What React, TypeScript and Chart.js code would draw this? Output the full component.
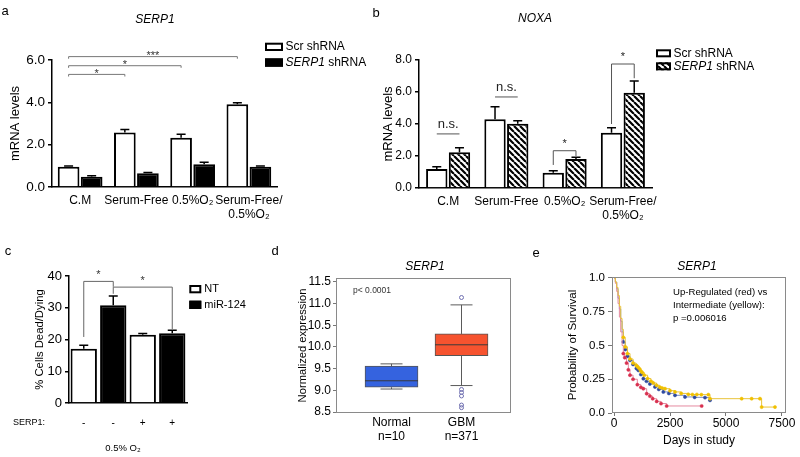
import React, { useEffect, useRef } from 'react';
import { Chart, registerables } from 'chart.js';

Chart.register(...registerables);

const FONT = '"Liberation Sans", Arial, Helvetica, sans-serif';
Chart.defaults.font.family = FONT;
Chart.defaults.color = '#000';

// ---------- panel a : SERP1 ----------
const A_CATEGORIES: any[] = ['C.M', 'Serum-Free', '0.5%O₂', ['Serum-Free/', '0.5%O₂']];
const A_SCR = [0.96, 2.57, 2.33, 3.91];
const A_SCR_ERR = [0.03, 0.15, 0.16, 0.07];
const A_SH = [0.49, 0.65, 1.07, 0.96];
const A_SH_ERR = [0.04, 0.04, 0.1, 0.03];
const A_BRACKETS = [
  { from: [0, 0], to: [3, 0], top: 6.16, ends: [6.06, 6.06], label: '***' },
  { from: [0, 0], to: [2, 0], top: 5.73, ends: [5.63, 5.63], label: '*' },
  { from: [0, 0], to: [1, 0], top: 5.32, ends: [5.22, 5.22], label: '*' },
];

// ---------- panel b : NOXA ----------
const B_CATEGORIES: any[] = ['C.M', 'Serum-Free', '0.5%O₂', ['Serum-Free/', '0.5%O₂']];
const B_SCR = [1.19, 4.29, 0.96, 3.46];
const B_SCR_ERR = [0.14, 0.79, 0.12, 0.31];
const B_SH = [2.23, 4.02, 1.81, 5.96];
const B_SH_ERR = [0.29, 0.19, 0.11, 0.73];
const B_BRACKETS = [
  { from: [0, 0], to: [0, 1], top: 3.38, ends: [3.38, 3.38], label: 'n.s.' },
  { from: [1, 0], to: [1, 1], top: 5.69, ends: [5.69, 5.69], label: 'n.s.' },
  { from: [2, 0], to: [2, 1], top: 2.33, ends: [1.44, 2.0], label: '*' },
  { from: [3, 0], to: [3, 1], top: 7.75, ends: [4.0, 6.86], label: '*' },
];

// ---------- panel c ----------
const C_CATEGORIES = ['-', '-', '+', '+'];
const C_NT = [17.1, null, 21.5, null];
const C_NT_ERR = [1.1, null, 0.4, null];
const C_MIR = [null, 30.8, null, 22.0];
const C_MIR_ERR = [null, 2.9, null, 0.9];
const C_BRACKETS = [
  { from: [0, 0], to: [1, 1], top: 38.3, ends: [20.8, 36.6], label: '*' },
  { from: [1, 1], to: [3, 1], top: 36.5, ends: [34.4, 23.3], label: '*' },
];

// ---------- panel d : boxplot ----------
const D_GROUPS = ['Normal', 'GBM'];
const D_COUNTS = ['n=10', 'n=371'];
const D_POS = [1, 2];
const D_MIN = [9.03, 9.11];
const D_Q1 = [9.07, 9.8];
const D_MEDIAN = [9.22, 10.05];
const D_Q3 = [9.56, 10.3];
const D_MAX = [9.61, 10.97];
const D_OUTLIERS = [[], [11.14, 9.02, 8.95, 8.87, 8.66, 8.6]];
const D_COLORS = ['#3563df', '#f6532f'];
const D_Y_TICKS = [8.5, 9.0, 9.5, 10.0, 10.5, 11.0, 11.5];

// ---------- panel e : survival ----------
const E_RED_DAYS = [0, 60, 120, 180, 240, 300, 360, 416, 480, 560, 640, 714, 850, 1042, 1200, 1310, 1458, 1600, 1726, 1905, 2100, 2351, 3914];
const E_RED_SURV = [1.0, 0.96, 0.9, 0.81, 0.71, 0.6, 0.5, 0.44, 0.41, 0.37, 0.32, 0.28, 0.25, 0.21, 0.19, 0.18, 0.143, 0.125, 0.106, 0.086, 0.07, 0.052, 0.052];
const E_YELLOW_DAYS = [0, 60, 120, 180, 240, 300, 360, 416, 500, 600, 714, 850, 987, 1040, 1086, 1150, 1200, 1260, 1350, 1500, 1650, 1756, 1900, 2050, 2150, 2277, 2500, 2723, 3000, 3318, 3500, 3700, 3900, 4212, 4286, 5700, 6146, 6518, 6592, 7188];
const E_YELLOW_SURV = [1.0, 0.97, 0.93, 0.87, 0.79, 0.7, 0.62, 0.56, 0.49, 0.44, 0.4, 0.37, 0.353, 0.345, 0.336, 0.325, 0.31, 0.3, 0.28, 0.255, 0.235, 0.222, 0.205, 0.19, 0.185, 0.18, 0.165, 0.156, 0.145, 0.138, 0.137, 0.137, 0.136, 0.136, 0.106, 0.106, 0.106, 0.106, 0.044, 0.044];
const E_BLUE_DAYS = [0, 60, 120, 180, 240, 300, 360, 416, 500, 600, 714, 850, 1000, 1086, 1200, 1310, 1450, 1600, 1830, 2000, 2202, 2450, 2723, 3170, 3600, 4063, 4286];
const E_BLUE_SURV = [1.0, 0.97, 0.92, 0.85, 0.77, 0.68, 0.6, 0.526, 0.47, 0.42, 0.39, 0.36, 0.33, 0.316, 0.285, 0.254, 0.235, 0.215, 0.193, 0.175, 0.156, 0.145, 0.131, 0.119, 0.116, 0.114, 0.094];
const E_X_TICKS = [0, 2500, 5000, 7500];
const E_Y_TICKS = [0, 0.25, 0.5, 0.75, 1.0];
const E_Y_LABELS = ['0.0', '0.25', '0.5', '0.75', '1.0'];
const E_FIRST_CENSOR_DAY = 400;

// ---------- plugins ----------
const errorBarsPlugin = {
  id: 'errorBars',
  afterDatasetsDraw(chart: any) {
    const ctx = chart.ctx;
    const ys = chart.scales.y;
    chart.data.datasets.forEach((ds: any, di: number) => {
      const errs = ds.errorBars;
      if (!errs) return;
      const meta = chart.getDatasetMeta(di);
      meta.data.forEach((bar: any, i: number) => {
        const v = ds.data[i];
        const e = errs[i];
        if (v == null || e == null) return;
        const x = bar.x;
        const y0 = ys.getPixelForValue(v);
        const y1 = ys.getPixelForValue(v + e);
        ctx.save();
        ctx.strokeStyle = '#000';
        ctx.lineWidth = 1.5;
        ctx.beginPath();
        ctx.moveTo(x, y0);
        ctx.lineTo(x, y1);
        ctx.moveTo(x - 4.5, y1);
        ctx.lineTo(x + 4.5, y1);
        ctx.stroke();
        ctx.restore();
      });
    });
  },
};

function bracketsPlugin(list: any[], style: any) {
  return {
    id: 'brackets',
    afterDraw(chart: any) {
      const ctx = chart.ctx;
      const ys = chart.scales.y;
      ctx.save();
      ctx.strokeStyle = style.color;
      ctx.lineWidth = style.width;
      list.forEach((b) => {
        const xa = chart.getDatasetMeta(b.from[1]).data[b.from[0]].x;
        const xb = chart.getDatasetMeta(b.to[1]).data[b.to[0]].x;
        const yt = ys.getPixelForValue(b.top);
        ctx.beginPath();
        ctx.moveTo(xa, ys.getPixelForValue(b.ends[0]));
        ctx.lineTo(xa, yt);
        ctx.lineTo(xb, yt);
        ctx.lineTo(xb, ys.getPixelForValue(b.ends[1]));
        ctx.stroke();
        const lf = style.labels[b.label];
        ctx.font = `${lf.size}px ${FONT}`;
        ctx.fillStyle = style.textColor;
        ctx.textAlign = 'center';
        ctx.textBaseline = 'alphabetic';
        ctx.fillText(b.label, (xa + xb) / 2, yt + lf.dy);
      });
      ctx.restore();
    },
  };
}

function legendPlugin(cfg: any) {
  return {
    id: 'figLegend',
    afterDraw(chart: any) {
      const ctx = chart.ctx;
      ctx.save();
      let row = 0;
      chart.data.datasets.forEach((ds: any) => {
        if (!ds.label || ds.type === 'scatter') return;
        const y = cfg.y + row * cfg.rowH;
        row++;
        const fill = Array.isArray(ds.backgroundColor) ? ds.backgroundColor[0] : ds.backgroundColor;
        ctx.fillStyle = fill;
        ctx.fillRect(cfg.x, y, cfg.boxW, cfg.boxH);
        const lw = cfg.lineW;
        ctx.strokeStyle = '#000';
        ctx.lineWidth = lw;
        ctx.strokeRect(cfg.x + lw / 2, y + lw / 2, cfg.boxW - lw, cfg.boxH - lw);
        let tx = cfg.x + cfg.boxW + cfg.gap;
        const ty = y + cfg.boxH / 2;
        ctx.fillStyle = '#000';
        ctx.textAlign = 'left';
        ctx.textBaseline = 'middle';
        const parts = String(ds.label).split(' ');
        if (parts[0] === 'SERP1' && parts.length > 1) {
          ctx.font = `italic ${cfg.size}px ${FONT}`;
          ctx.fillText(parts[0], tx, ty);
          tx += ctx.measureText(parts[0]).width;
          ctx.font = `${cfg.size}px ${FONT}`;
          ctx.fillText(' ' + parts.slice(1).join(' '), tx, ty);
        } else {
          ctx.font = `${cfg.size}px ${FONT}`;
          ctx.fillText(ds.label, tx, ty);
        }
      });
      ctx.restore();
    },
  };
}

function textsPlugin(items: any[]) {
  return {
    id: 'texts',
    afterDraw(chart: any) {
      const ctx = chart.ctx;
      ctx.save();
      items.forEach((it) => {
        ctx.font = `${it.style || ''} ${it.size}px ${FONT}`;
        ctx.fillStyle = it.color || '#000';
        ctx.textAlign = it.align || 'center';
        ctx.textBaseline = it.baseline || 'middle';
        ctx.fillText(it.text, it.x, it.y);
      });
      ctx.restore();
    },
  };
}

const framePlugin = {
  id: 'frame',
  afterDatasetsDraw(chart: any) {
    const { ctx, chartArea: a } = chart;
    ctx.save();
    ctx.strokeStyle = '#8a8a8a';
    ctx.lineWidth = 1;
    ctx.strokeRect(a.left + 0.5, a.top + 0.5, a.right - a.left - 1, a.bottom - a.top - 1);
    ctx.restore();
  },
};

const boxWhiskerPlugin = {
  id: 'boxWhisker',
  afterDatasetsDraw(chart: any) {
    const ctx = chart.ctx;
    const ys = chart.scales.y;
    const meta = chart.getDatasetMeta(0);
    ctx.save();
    D_MEDIAN.forEach((med, i) => {
      const bar = meta.data[i];
      const x = bar.x;
      const half = bar.width / 2;
      const cap = 11;
      const yq1 = ys.getPixelForValue(D_Q1[i]);
      const yq3 = ys.getPixelForValue(D_Q3[i]);
      const ymin = ys.getPixelForValue(D_MIN[i]);
      const ymax = ys.getPixelForValue(D_MAX[i]);
      ctx.strokeStyle = '#5a5a5a';
      ctx.lineWidth = 1;
      ctx.beginPath();
      ctx.moveTo(x, yq3);
      ctx.lineTo(x, ymax);
      ctx.moveTo(x - cap, ymax);
      ctx.lineTo(x + cap, ymax);
      ctx.moveTo(x, yq1);
      ctx.lineTo(x, ymin);
      ctx.moveTo(x - cap, ymin);
      ctx.lineTo(x + cap, ymin);
      ctx.stroke();
      ctx.strokeStyle = '#3a3a3a';
      ctx.beginPath();
      const ym = ys.getPixelForValue(med);
      ctx.moveTo(x - half, ym);
      ctx.lineTo(x + half, ym);
      ctx.stroke();
    });
    ctx.restore();
  },
};

function makeHatch() {
  const s = 6;
  const c = document.createElement('canvas');
  c.width = s;
  c.height = s;
  const g = c.getContext('2d') as CanvasRenderingContext2D;
  g.fillStyle = '#fff';
  g.fillRect(0, 0, s, s);
  g.strokeStyle = '#000';
  g.lineWidth = 2.2;
  g.beginPath();
  for (let k = -1; k <= 1; k++) {
    g.moveTo(k * s, 0);
    g.lineTo(k * s + s, s);
  }
  g.stroke();
  return g.createPattern(c, 'repeat');
}

const axisBlack = { color: '#000', width: 1.5 };

function barScales(opts: any) {
  return {
    x: {
      grid: { display: false, drawTicks: false },
      border: axisBlack,
      ticks: { color: '#000', font: { size: opts.xSize }, padding: opts.xPad, maxRotation: 0, minRotation: 0, autoSkip: false },
      afterFit: (s: any) => { s.height = opts.xH; },
    },
    y: {
      min: 0,
      max: opts.max,
      ticks: { stepSize: opts.step, color: '#000', font: { size: opts.ySize }, padding: 3, callback: opts.fmt },
      grid: { drawOnChartArea: false, drawTicks: true, tickLength: 4, color: '#000', lineWidth: 1.5 },
      border: axisBlack,
      title: { display: true, text: opts.title, color: '#000', font: { size: opts.titleSize }, padding: { top: opts.titlePad, bottom: 0 } },
      afterFit: (s: any) => { s.width = opts.yW; },
    },
  };
}

function buildA() {
  return {
    type: 'bar',
    data: {
      labels: A_CATEGORIES,
      datasets: [
        { label: 'Scr shRNA', data: A_SCR, errorBars: A_SCR_ERR, backgroundColor: '#fff', borderColor: '#000', borderWidth: 2, categoryPercentage: 0.82, barPercentage: 0.94 },
        { label: 'SERP1 shRNA', data: A_SH, errorBars: A_SH_ERR, backgroundColor: '#000', borderColor: '#000', borderWidth: 2, categoryPercentage: 0.82, barPercentage: 0.94 },
      ],
    },
    options: {
      responsive: false,
      animation: false,
      layout: { padding: { left: 0, top: 60, right: 93, bottom: 0 } },
      plugins: { legend: { display: false }, tooltip: { enabled: false } },
      scales: barScales({ xSize: 12, xPad: 6, xH: 43, max: 6, step: 2, ySize: 13.5, fmt: (v: any) => Number(v).toFixed(1), title: 'mRNA levels', titleSize: 13, titlePad: 7.7, yW: 52 }),
    },
    plugins: [
      errorBarsPlugin,
      bracketsPlugin(A_BRACKETS, { color: '#777', width: 1, textColor: '#333', labels: { '*': { size: 11, dy: 2.4 }, '***': { size: 11, dy: 2.4 } } }),
      legendPlugin({ x: 265, y: 42.7, rowH: 15.7, boxW: 18, boxH: 8.3, gap: 2.5, lineW: 2, size: 12 }),
      textsPlugin([
        { text: 'SERP1', x: 155, y: 20, size: 12, style: 'italic' },
        { text: 'a', x: 5, y: 15, size: 13, baseline: 'alphabetic' },
      ]),
    ],
  };
}

function buildB(hatch: any) {
  return {
    type: 'bar',
    data: {
      labels: B_CATEGORIES,
      datasets: [
        { label: 'Scr shRNA', data: B_SCR, errorBars: B_SCR_ERR, backgroundColor: '#fff', borderColor: '#000', borderWidth: 2, categoryPercentage: 0.78, barPercentage: 0.94 },
        { label: 'SERP1 shRNA', data: B_SH, errorBars: B_SH_ERR, backgroundColor: hatch, borderColor: '#000', borderWidth: 2, categoryPercentage: 0.78, barPercentage: 0.94 },
      ],
    },
    options: {
      responsive: false,
      animation: false,
      layout: { padding: { left: 0, top: 60, right: 148, bottom: 0 } },
      plugins: { legend: { display: false }, tooltip: { enabled: false } },
      scales: barScales({ xSize: 12, xPad: 6, xH: 42, max: 8, step: 2, ySize: 12, fmt: (v: any) => Number(v).toFixed(1), title: 'mRNA levels', titleSize: 13, titlePad: 10.2, yW: 49 }),
    },
    plugins: [
      errorBarsPlugin,
      bracketsPlugin(B_BRACKETS, { color: '#555', width: 1, textColor: '#222', labels: { '*': { size: 11, dy: -3.6 }, 'n.s.': { size: 13, dy: -5.6 } } }),
      legendPlugin({ x: 286, y: 49.3, rowH: 13, boxW: 15, boxH: 8, gap: 2.5, lineW: 2, size: 12 }),
      textsPlugin([
        { text: 'NOXA', x: 165, y: 19, size: 12, style: 'italic' },
        { text: 'b', x: 6, y: 17, size: 13, baseline: 'alphabetic' },
      ]),
    ],
  };
}

function buildC() {
  return {
    type: 'bar',
    data: {
      labels: C_CATEGORIES,
      datasets: [
        { label: 'NT', data: C_NT, errorBars: C_NT_ERR, backgroundColor: '#fff', borderColor: '#000', borderWidth: 2, grouped: false, categoryPercentage: 0.92, barPercentage: 0.97 },
        { label: 'miR-124', data: C_MIR, errorBars: C_MIR_ERR, backgroundColor: '#000', borderColor: '#000', borderWidth: 2, grouped: false, categoryPercentage: 0.92, barPercentage: 0.97 },
      ],
    },
    options: {
      responsive: false,
      animation: false,
      layout: { padding: { left: 0, top: 46, right: 83, bottom: 0 } },
      plugins: { legend: { display: false }, tooltip: { enabled: false } },
      scales: barScales({ xSize: 10, xPad: 14, xH: 54, max: 40, step: 10, ySize: 13, fmt: (v: any) => String(v), title: '% Cells Dead/Dying', titleSize: 11.3, titlePad: 33.2, yW: 69 }),
    },
    plugins: [
      errorBarsPlugin,
      bracketsPlugin(C_BRACKETS, { color: '#666', width: 1, textColor: '#333', labels: { '*': { size: 11, dy: -3.6 } } }),
      legendPlugin({ x: 189.3, y: 55, rowH: 15.7, boxW: 12, boxH: 8.3, gap: 3, lineW: 2, size: 11 }),
      textsPlugin([
        { text: 'SERP1:', x: 45, y: 193, size: 9, align: 'right' },
        { text: '0.5% O₂', x: 123, y: 218, size: 9.5 },
        { text: 'c', x: 8, y: 25, size: 13, baseline: 'alphabetic' },
      ]),
    ],
  };
}

function buildD() {
  const outliers: any[] = [];
  D_OUTLIERS.forEach((vals, g) => vals.forEach((v) => outliers.push({ x: D_POS[g], y: v })));
  return {
    type: 'bar',
    data: {
      datasets: [
        {
          label: 'box',
          data: D_POS.map((p, i) => ({ x: p, y: [D_Q1[i], D_Q3[i]] })),
          backgroundColor: D_COLORS,
          borderColor: '#555',
          borderWidth: 1,
          borderSkipped: false,
          barThickness: 53,
        },
        {
          type: 'scatter',
          label: 'outliers',
          data: outliers,
          pointRadius: 2,
          pointBorderWidth: 1,
          pointBorderColor: '#6f6fb0',
          pointBackgroundColor: 'rgba(255,255,255,0)',
        },
      ],
    },
    options: {
      responsive: false,
      animation: false,
      layout: { padding: { left: 0, top: 48, right: 29, bottom: 0 } },
      plugins: { legend: { display: false }, tooltip: { enabled: false } },
      scales: {
        x: {
          type: 'linear',
          min: 0.207,
          max: 2.707,
          offset: false,
          afterBuildTicks: (s: any) => { s.ticks = D_POS.map((v) => ({ value: v })); },
          ticks: { color: '#000', font: { size: 12 }, padding: 2.5, maxRotation: 0, autoSkip: false, callback: (v: any, i: number) => [D_GROUPS[i], D_COUNTS[i]] },
          grid: { display: false, drawTicks: false },
          border: { display: false },
          afterFit: (s: any) => { s.height = 44; },
        },
        y: {
          min: 8.477,
          max: 11.59,
          afterBuildTicks: (s: any) => { s.ticks = D_Y_TICKS.map((v) => ({ value: v })); },
          ticks: { color: '#000', font: { size: 12 }, padding: 2, callback: (v: any) => Number(v).toFixed(1) },
          grid: { drawOnChartArea: false, tickLength: 3, color: '#777' },
          border: { display: false },
          title: { display: true, text: 'Normalized expression', color: '#000', font: { size: 11.2 }, padding: { top: 25.8, bottom: 0 } },
          afterFit: (s: any) => { s.width = 66; },
        },
      },
    },
    plugins: [
      framePlugin,
      boxWhiskerPlugin,
      textsPlugin([
        { text: 'SERP1', x: 155, y: 37, size: 12, style: 'italic' },
        { text: 'p< 0.0001', x: 83, y: 61, size: 8.5, align: 'left', color: '#333' },
        { text: 'd', x: 5, y: 25, size: 13, baseline: 'alphabetic' },
        { text: 'e', x: 266, y: 26.5, size: 13, baseline: 'alphabetic' },
      ]),
    ],
  };
}

function kmSet(label: string, days: number[], surv: number[], line: string, point: string) {
  return {
    label,
    data: days.map((d, i) => ({ x: d, y: surv[i] })),
    stepped: 'before',
    borderColor: line,
    borderWidth: 1,
    pointRadius: (c: any) => (c.raw && c.raw.x < E_FIRST_CENSOR_DAY ? 0 : 1.6),
    pointBackgroundColor: point,
    pointBorderColor: point,
    pointBorderWidth: 0.5,
    fill: false,
  };
}

function buildE() {
  return {
    type: 'line',
    data: {
      datasets: [
        kmSet('Intermediate', E_YELLOW_DAYS, E_YELLOW_SURV, '#e9c33a', '#f0c000'),
        kmSet('Up-Regulated', E_RED_DAYS, E_RED_SURV, '#e58aa0', '#d8304f'),
        kmSet('Down-Regulated', E_BLUE_DAYS, E_BLUE_SURV, '#7d8cc0', '#2f4aa0'),
      ],
    },
    options: {
      responsive: false,
      animation: false,
      layout: { padding: { left: 0, top: 47, right: 14, bottom: 0 } },
      plugins: { legend: { display: false }, tooltip: { enabled: false } },
      scales: {
        x: {
          type: 'linear',
          min: -90,
          max: 7680,
          afterBuildTicks: (s: any) => { s.ticks = E_X_TICKS.map((v) => ({ value: v })); },
          ticks: { color: '#000', font: { size: 12 }, padding: 0, maxRotation: 0, autoSkip: false, callback: (v: any) => String(v) },
          grid: { drawOnChartArea: false, tickLength: 3, color: '#777' },
          border: { display: false },
          title: { display: true, text: 'Days in study', color: '#000', font: { size: 12 }, padding: { top: 0, bottom: 8.8 } },
          afterFit: (s: any) => { s.height = 44; },
        },
        y: {
          min: 0,
          max: 1.007,
          afterBuildTicks: (s: any) => { s.ticks = E_Y_TICKS.map((v) => ({ value: v })); },
          ticks: { color: '#000', font: { size: 11.5 }, padding: 3, callback: (v: any, i: number) => E_Y_LABELS[i] },
          grid: { drawOnChartArea: false, tickLength: 4, color: '#777' },
          border: { display: false },
          title: { display: true, text: 'Probability of Survival', color: '#000', font: { size: 11.5 }, padding: { top: 26.1, bottom: 0 } },
          afterFit: (s: any) => { s.width = 72; },
        },
      },
    },
    plugins: [
      framePlugin,
      textsPlugin([
        { text: 'SERP1', x: 157, y: 37, size: 12, style: 'italic' },
        { text: 'Up-Regulated (red) vs', x: 133, y: 62, size: 9.6, align: 'left' },
        { text: 'Intermediate (yellow):', x: 133, y: 75, size: 9.6, align: 'left' },
        { text: 'p =0.006016', x: 133, y: 88, size: 9.6, align: 'left' },
      ]),
    ],
  };
}

function Panel({ left, top, width, height, build }: any) {
  const ref = useRef<HTMLCanvasElement>(null);
  useEffect(() => {
    const canvas = ref.current as HTMLCanvasElement;
    const chart = new Chart(canvas, build() as any);
    return () => chart.destroy();
  }, []);
  return (
    <canvas
      ref={ref}
      width={width}
      height={height}
      style={{ position: 'absolute', left, top, width, height }}
    />
  );
}

export default function App() {
  return (
    <div style={{ position: 'fixed', left: 0, top: 0, width: 800, height: 457, background: '#fff', overflow: 'hidden' }}>
      <Panel left={0} top={0} width={370} height={230} build={buildA} />
      <Panel left={370} top={0} width={430} height={230} build={() => buildB(makeHatch())} />
      <Panel left={0} top={230} width={270} height={227} build={buildC} />
      <Panel left={270} top={230} width={270} height={227} build={buildD} />
      <Panel left={540} top={230} width={260} height={227} build={buildE} />
    </div>
  );
}
